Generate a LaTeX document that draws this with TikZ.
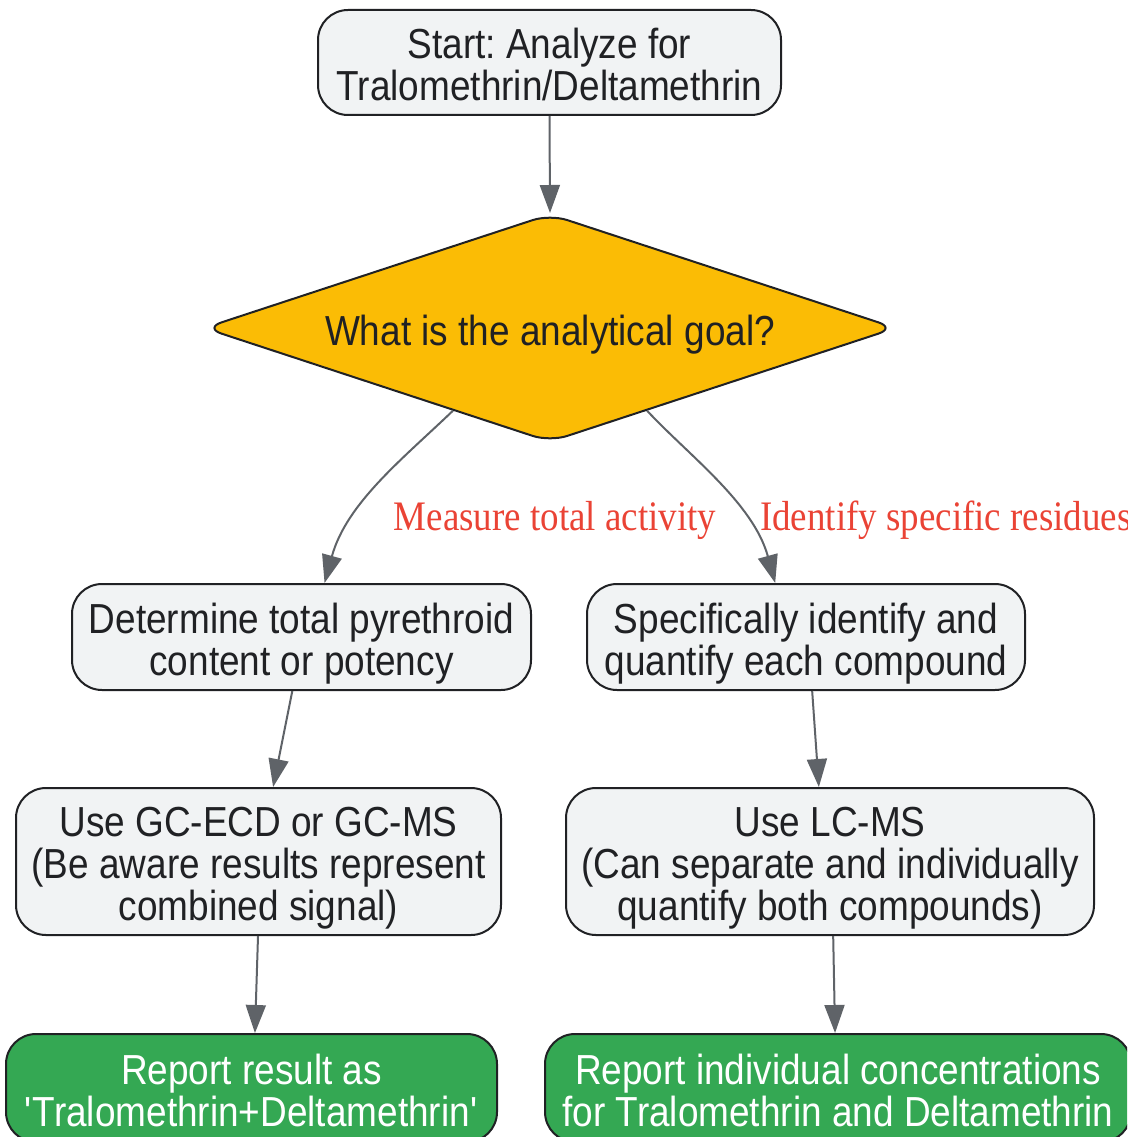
\documentclass[tikz,border=0pt]{standalone}
\usepackage{fontspec}
\setmainfont[FakeStretch=0.88]{Liberation Sans}
\newfontfamily\lblfont[FakeStretch=0.88]{Liberation Serif}
\usetikzlibrary{shapes.geometric,arrows.meta,calc}

\definecolor{boxgray}{HTML}{F1F3F4}
\definecolor{edgegray}{HTML}{5F6368}
\definecolor{inkdark}{HTML}{202124}
\definecolor{goalyellow}{HTML}{FBBC05}
\definecolor{reportgreen}{HTML}{34A853}
\definecolor{lblred}{HTML}{EA4335}

% fixed line box: ascent on the first line, descent on the last
\newcommand{\lnup}{\rule{0pt}{44pt}}
\newcommand{\lndown}{\rule[-10pt]{0pt}{10pt}}

\begin{document}
\frenchspacing
\begin{tikzpicture}[x=1pt,y=-1pt,
	every node/.style={font=\fontsize{42}{42}\selectfont, text=inkdark, align=center, inner sep=0pt},
	stepbox/.style={draw=inkdark, line width=2pt, fill=boxgray, rounded corners=30pt},
	reportbox/.style={stepbox, fill=reportgreen, text=white},
	goalbox/.style={diamond, aspect=3.06, draw=inkdark, line width=2pt, fill=goalyellow, rounded corners=18pt},
	flow/.style={draw=edgegray, line width=2pt, -{Triangle[length=28pt,width=20pt]}},
	lbl/.style={font=\lblfont\fontsize{42}{42}\selectfont, text=lblred}]
	\useasboundingbox (0,0) rectangle (1127,1137);
	\clip (0,0) rectangle (1127,1137);

	\node[stepbox, minimum width=463pt, minimum height=105pt] (start) at (549.5,62.5) {\lnup Start: Analyze for\\Tralomethrin/Deltamethrin\lndown};
	\node[goalbox, minimum width=692pt, minimum height=228pt] (goal) at (550,328) {\lnup What is the analytical goal?\lndown};
	\node[stepbox, minimum width=459pt, minimum height=106pt] (total) at (301.5,637) {\lnup Determine total pyrethroid\\content or potency\lndown};
	\node[stepbox, minimum width=438pt, minimum height=106pt] (specific) at (806,637) {\lnup Specifically identify and\\quantify each compound\lndown};
	\node[stepbox, minimum width=485pt, minimum height=147pt] (gcms) at (258.5,861.5) {\lnup Use GC-ECD or GC-MS\\(Be aware results represent\\combined signal)\lndown};
	\node[stepbox, minimum width=528pt, minimum height=147pt] (lcms) at (830,861.5) {\lnup Use LC-MS\\(Can separate and individually\\quantify both compounds)\lndown};
	\node[reportbox, minimum width=491pt, minimum height=108pt] (repcomb) at (251.5,1088) {\lnup Report result as\\\textquotesingle Tralomethrin+Deltamethrin\textquotesingle\lndown};
	\node[reportbox, minimum width=586pt, minimum height=108pt] (repind) at (838,1088) {\lnup Report individual concentrations\\for Tralomethrin and Deltamethrin\lndown};

	\draw[flow] (start.south) -- (goal.north);
	\draw[flow] ($(goal.south)!0.28!(goal.west)$) .. controls +(-50,48) and +(22,-80) .. ($(total.north west)!0.55!(total.north east)$);
	\draw[flow] ($(goal.south)!0.28!(goal.east)$) .. controls +(42,45) and +(-22,-80) .. ($(specific.north west)!0.43!(specific.north east)$);
	\node[lbl, anchor=base] (measure) at (555,530) {Measure total activity};
	\node[lbl, anchor=base west] (identify) at (760,530) {Identify specific residues};

	\draw[flow] ($(total.south west)!0.48!(total.south east)$) -- ($(gcms.north west)!0.53!(gcms.north east)$);
	\draw[flow] ($(specific.south west)!0.514!(specific.south east)$) -- ($(lcms.north west)!0.479!(lcms.north east)$);
	\draw[flow] ($(gcms.south west)!0.499!(gcms.south east)$) -- ($(repcomb.north west)!0.507!(repcomb.north east)$);
	\draw[flow] ($(lcms.south west)!0.506!(lcms.south east)$) -- ($(repind.north west)!0.495!(repind.north east)$);
\end{tikzpicture}
\end{document}
